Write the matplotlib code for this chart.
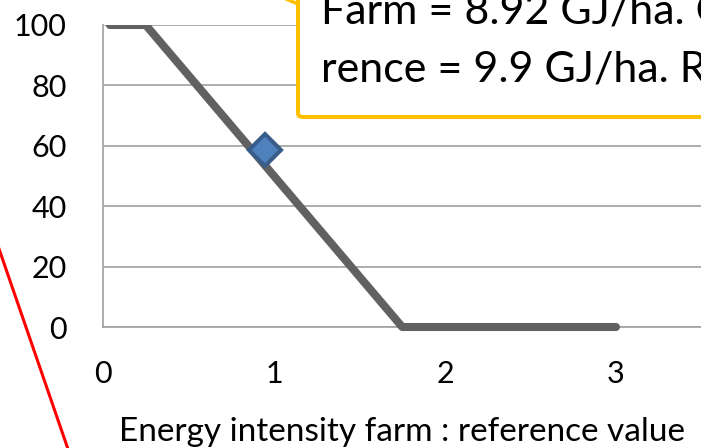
import matplotlib.pyplot as plt
from matplotlib.patches import FancyBboxPatch, Rectangle
from matplotlib.lines import Line2D

plt.rcParams['font.family'] = ['Lato', 'DejaVu Sans']

# --- Données ---
curve_x = [0.04, 0.25, 1.75, 3.0]
curve_y = [100, 100, 0, 0]
farm_x = [0.95]
farm_y = [58.5]
x_ticks = [0, 1, 2, 3]
y_ticks = [0, 20, 40, 60, 80, 100]
x_label = "Energy intensity farm : reference value"
note_lines = ["Farm = 8.92 GJ/ha. C", "rence = 9.9 GJ/ha. R"]

W, H = 701, 448
fig = plt.figure(figsize=(W / 100, H / 100), dpi=100)


def px(x, y):
    # pixel (depuis le haut) -> coordonnées figure
    return x / W, 1 - y / H


ax = fig.add_axes([103 / W, (H - 327) / H, (701.5 - 103) / W, 302 / H])
ax.set_xlim(0, 3.5)
ax.set_ylim(0, 100)
ax.set_xticks(x_ticks)
ax.set_yticks(y_ticks)
ax.tick_params(length=0, labelsize=22, colors="black")
ax.tick_params(axis="y", pad=26)
ax.tick_params(axis="x", pad=24)
ax.grid(axis="y", color="#a0a0a0", linewidth=1.2)
ax.set_axisbelow(True)
for s in ["top", "right"]:
    ax.spines[s].set_visible(False)
for s in ["left", "bottom"]:
    ax.spines[s].set_color("#a0a0a0")
    ax.spines[s].set_linewidth(1.2)

ln, = ax.plot(curve_x, curve_y, color="#616161", linewidth=5.8,
              solid_capstyle="round", solid_joinstyle="round", zorder=3)
clip = Rectangle((-0.05, -0.1), 1.1, 1.1, transform=ax.transAxes)
ln.set_clip_path(clip)

ax.plot(farm_x, farm_y, linestyle="none", marker="D", markersize=16.5,
        markerfacecolor="#4f81bd", markeredgecolor="#385d8a",
        markeredgewidth=2.9, zorder=4)

# titre de l'axe x
lx, ly = px(402, 441)
fig.text(lx, ly, x_label, fontsize=24, ha="center", va="baseline")

# --- Bulle jaune ---
x0, y0 = px(298, 117)
box = FancyBboxPatch((x0, y0), 1.0, 0.5, boxstyle="round,pad=0,rounding_size=0.008",
                     transform=fig.transFigure, facecolor="white",
                     edgecolor="#ffc000", linewidth=2.9, zorder=10)
fig.patches.append(box)
tx, ty = zip(px(298, 4), px(284, -2))
fig.add_artist(Line2D(tx, ty, transform=fig.transFigure, color="#ffc000",
                      linewidth=2.5, zorder=9))
for txt, base in zip(note_lines, [24, 82]):
    fx, fy = px(321, base)
    fig.text(fx, fy, txt, fontsize=31, va="baseline", ha="left", zorder=11)

# --- Trait rouge ---
rx, ry = zip(px(-3, 243), px(69, 452))
fig.add_artist(Line2D(rx, ry, transform=fig.transFigure, color="red",
                      linewidth=2.2, zorder=12))

fig.savefig("out.png", dpi=100)
